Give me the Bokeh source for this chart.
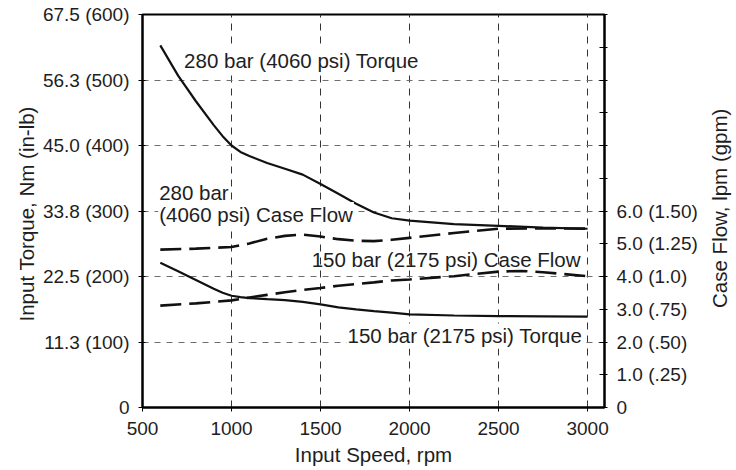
from bokeh.plotting import figure
from bokeh.models import Range1d, LinearAxis, FixedTicker, Label, Div
from bokeh.layouts import row
from bokeh.embed import file_html
from bokeh.resources import INLINE

# ---- data ----
rpm_torque_280 = [600, 700, 800, 900, 950, 1000, 1050, 1100, 1200, 1300, 1400, 1500,
                  1600, 1700, 1800, 1900, 2000, 2250, 2500, 2750, 3000]
torque_280 = [62.2, 57.0, 52.6, 48.5, 46.6, 45.0, 43.9, 43.2, 42.0, 41.0, 40.0, 38.4,
              36.7, 35.0, 33.5, 32.5, 32.1, 31.5, 31.2, 30.9, 30.7]
rpm_flow_280 = [600, 800, 1000, 1100, 1200, 1300, 1400, 1500, 1600, 1700,
                1800, 1900, 2000, 2250, 2500, 2750, 3000]
flow_280 = [4.82, 4.85, 4.90, 5.01, 5.15, 5.24, 5.28, 5.22, 5.14,
            5.09, 5.08, 5.12, 5.18, 5.33, 5.46, 5.47, 5.46]
rpm_torque_150 = [600, 700, 800, 900, 950, 1000, 1050, 1100, 1200, 1300, 1400, 1500,
                  1600, 1700, 1800, 1900, 2000, 2250, 2500, 2750, 3000]
torque_150 = [24.85, 23.4, 21.9, 20.4, 19.7, 19.2, 18.95, 18.8, 18.6, 18.45, 18.15,
              17.7, 17.2, 16.85, 16.55, 16.3, 16.0, 15.8, 15.7, 15.65, 15.6]
rpm_flow_150 = [600, 800, 1000, 1100, 1200, 1300, 1400, 1500, 1600, 1700,
                1800, 1900, 2000, 2250, 2500, 2625, 2750, 3000]
flow_150 = [3.11, 3.18, 3.27, 3.36, 3.44, 3.52, 3.59, 3.65, 3.72,
            3.77, 3.82, 3.88, 3.91, 4.01, 4.15, 4.17, 4.13, 4.01]

x_ticks = [500, 1000, 1500, 2000, 2500, 3000]
torque_ticks = [0, 11.25, 22.5, 33.75, 45, 56.25, 67.5]
torque_labels = ["0", "11.3 (100)", "22.5 (200)", "33.8 (300)", "45.0 (400)",
                 "56.3 (500)", "67.5 (600)"]
flow_ticks = list(range(0, 13))
flow_labels = ["0", "1.0 (.25)", "2.0 (.50)", "3.0 (.75)", "4.0 (1.0)",
               "5.0 (1.25)", "6.0 (1.50)", "", "", "", "", "", ""]

FONT = "Liberation Sans"
TXT = "#1e1e1e"
TICK_SIZE = "19px"
LABEL_SIZE = "20.5px"

p = figure(width=709, height=470, x_range=Range1d(500, 3095),
           y_range=Range1d(0, 67.5), output_backend="svg",
           toolbar_location=None, min_border_left=142, min_border_right=105,
           min_border_top=14, min_border_bottom=63)
p.extra_y_ranges = {"flow": Range1d(0, 12)}
p.outline_line_color = "black"
p.outline_line_width = 2
p.background_fill_color = "white"
p.border_fill_color = "white"

# grids
p.xgrid.ticker = FixedTicker(ticks=x_ticks[1:])
p.xgrid.grid_line_color = "#333333"
p.xgrid.grid_line_dash = "7 6"
p.xgrid.grid_line_width = 1
p.ygrid.ticker = FixedTicker(ticks=torque_ticks[1:-1])
p.ygrid.grid_line_color = "#6e6e6e"
p.ygrid.grid_line_dash = "6 6"
p.ygrid.grid_line_width = 1


def style_axis(ax):
    ax.axis_line_width = 2
    ax.axis_line_color = "black"
    ax.major_tick_line_color = "black"
    ax.minor_tick_line_color = None
    ax.major_label_text_font = FONT
    ax.major_label_text_font_size = TICK_SIZE
    ax.major_label_text_color = TXT
    ax.axis_label_text_font = FONT
    ax.axis_label_text_font_size = LABEL_SIZE
    ax.axis_label_text_font_style = "normal"
    ax.axis_label_text_color = TXT


xa = p.xaxis[0]
style_axis(xa)
xa.ticker = FixedTicker(ticks=x_ticks)
xa.major_tick_out = 4
xa.major_tick_in = 0
xa.major_label_standoff = 10
xa.axis_label = "Input Speed, rpm"
xa.axis_label_standoff = 5

ya = p.yaxis[0]
style_axis(ya)
ya.ticker = FixedTicker(ticks=torque_ticks)
ya.major_label_overrides = {t: l for t, l in zip(torque_ticks, torque_labels)}
ya.major_tick_out = 4
ya.major_tick_in = 3
ya.major_label_standoff = 9
ya.axis_label = "Input Torque, Nm  (in-lb)"
ya.axis_label_standoff = 2

ra = LinearAxis(y_range_name="flow", ticker=FixedTicker(ticks=flow_ticks))
style_axis(ra)
ra.major_label_overrides = {t: l for t, l in zip(flow_ticks, flow_labels)}
ra.major_tick_out = 3
ra.major_tick_in = 5
ra.major_label_standoff = 9
p.add_layout(ra, "right")

# curves
p.line(rpm_torque_280, torque_280, line_color="#111111", line_width=2.2)
p.line(rpm_torque_150, torque_150, line_color="#111111", line_width=2.2)
p.line(rpm_flow_280, flow_280, y_range_name="flow", line_color="#111111",
       line_width=2.6, line_dash="21 8")
p.line(rpm_flow_150, flow_150, y_range_name="flow", line_color="#111111",
       line_width=2.6, line_dash="21 8")

# annotations
def add_label(x, y, text, bg=False):
    lab = Label(x=x, y=y, text=text, text_font=FONT, text_font_size=LABEL_SIZE,
                text_color=TXT, text_baseline="middle", text_align="left")
    if bg:
        lab.background_fill_color = "white"
        lab.padding = 1
    p.add_layout(lab)

add_label(728, 59.6, "280 bar (4060 psi) Torque", bg=True)
add_label(588, 33.15, "(4060 psi) Case Flow", bg=True)
add_label(588, 36.85, "280 bar", bg=True)
add_label(1450, 25.35, "150 bar (2175 psi) Case Flow")
add_label(1646, 12.3, "150 bar (2175 psi) Torque", bg=True)

# right axis title (reads bottom to top), placed beside the plot
right_title = ('<div style="width:24px;height:416px;display:flex;align-items:center;'
               'justify-content:center;overflow:visible;">'
               '<span style="display:inline-block;transform:rotate(-90deg);'
               'white-space:nowrap;font-family:\'Liberation Sans\';font-size:20.5px;'
               'line-height:1;color:#1e1e1e;">Case Flow, lpm (gpm)</span></div>')
div = Div(text=right_title, width=24, height=416, margin=0)

layout = row(p, div, spacing=0)
open("out.html", "w").write(file_html(layout, INLINE))
